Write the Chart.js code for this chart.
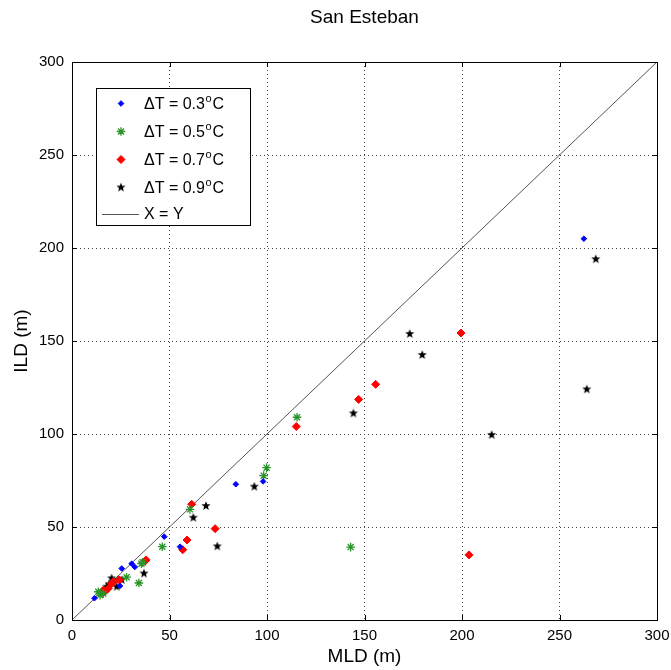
<!DOCTYPE html>
<html>
<head>
<meta charset="utf-8">
<script src="https://cdn.jsdelivr.net/npm/chart.js@4/dist/chart.umd.min.js"></script>
<style>
html,body{margin:0;padding:0;background:#fff;}
#wrap{width:671px;height:670px;}
</style>
</head>
<body>
<div id="wrap"><canvas id="c" width="671" height="670"></canvas></div>
<script>
// ---- data ----
const title = 'San Esteban';
const xLabel = 'MLD (m)';
const yLabel = 'ILD (m)';
const seriesNames = ['\u0394T = 0.3', '\u0394T = 0.5', '\u0394T = 0.7', '\u0394T = 0.9'];
const lineName = 'X = Y';

const mld03 = [11.5, 24.6, 25.5, 30.6, 32.2, 47.3, 55.4, 84, 98, 262.5];
const ild03 = [11.7, 18.3, 27.7, 30.3, 28.5, 44.8, 39.4, 73, 74.5, 205];

const mld05 = [13.5, 14.4, 16, 28, 34.3, 35.6, 36.3, 46.3, 60.5, 98.3, 99.8, 115.4, 142.9];
const ild05 = [15.2, 13.4, 14.2, 23, 19.9, 30.3, 31, 39.4, 59.5, 77.6, 81.9, 109, 39.2];

const mld07 = [15.2, 16, 17, 18.6, 20.3, 21.2, 24.3, 37.4, 38, 56.8, 59, 61.4, 73.4, 115, 147, 155.7, 199.5, 203.6];
const ild07 = [14.4, 16, 15.5, 17, 19.5, 20.6, 21.5, 31.6, 32.3, 37.8, 43, 62.2, 49.1, 104, 118.6, 126.7, 154.3, 35];

const mld09 = [17.8, 19, 20.3, 22.9, 23.7, 25.5, 36.9, 62.2, 68.7, 74.5, 93.5, 144.3, 173.2, 179.6, 215.2, 264, 268.6];
const ild09 = [17.9, 19.2, 22.4, 17.9, 21.5, 21.5, 25, 55, 61.3, 39.6, 71.7, 111.1, 153.8, 142.5, 99.5, 124, 194];

const lineXY = [0, 300];

const axisMin = 0, axisMax = 300, axisStep = 50;

// ---- helpers ----
function pts(xs, ys){ return xs.map((x,i)=>({x:x, y:ys[i]})); }
function pentagram(r, color){
  const c = document.createElement('canvas');
  const s = Math.ceil(2*r+2);
  c.width = s; c.height = s;
  const g = c.getContext('2d');
  g.fillStyle = color;
  g.beginPath();
  const cx = s/2, cy = s/2, ri = r*0.42;
  for(let k=0;k<10;k++){
    const ang = -Math.PI/2 + k*Math.PI/5;
    const rr = (k%2===0)? r : ri;
    const px = cx + rr*Math.cos(ang), py = cy + rr*Math.sin(ang);
    if(k===0) g.moveTo(px,py); else g.lineTo(px,py);
  }
  g.closePath(); g.fill();
  return c;
}
const starImg = pentagram(4.8, '#000');

const FONT = "'Liberation Sans', Arial, Helvetica, sans-serif";

const frameAndLegend = {
  id: 'frameAndLegend',
  afterDatasetsDraw(chart){
    const ctx = chart.ctx, a = chart.chartArea;
    const xs = chart.scales.x, ys = chart.scales.y;
    ctx.save();
    // frame
    ctx.strokeStyle = '#000'; ctx.lineWidth = 1; ctx.setLineDash([]);
    ctx.strokeRect(Math.round(a.left)+0.5, Math.round(a.top)+0.5, Math.round(a.right-a.left), Math.round(a.bottom-a.top));
    // inward ticks
    ctx.beginPath();
    xs.ticks.forEach(t=>{
      const p = Math.round(xs.getPixelForValue(t.value))+0.5;
      ctx.moveTo(p, a.bottom); ctx.lineTo(p, a.bottom-5);
      ctx.moveTo(p, a.top); ctx.lineTo(p, a.top+5);
    });
    ys.ticks.forEach(t=>{
      const p = Math.round(ys.getPixelForValue(t.value))+0.5;
      ctx.moveTo(a.left, p); ctx.lineTo(a.left+5, p);
      ctx.moveTo(a.right, p); ctx.lineTo(a.right-5, p);
    });
    ctx.stroke();

    // legend
    const bx = 96.5, by = 88.5, bw = 154, bh = 137;
    ctx.fillStyle = '#fff';
    ctx.fillRect(bx, by, bw, bh);
    ctx.strokeStyle = '#000';
    ctx.strokeRect(bx, by, bw, bh);
    const rows = [103.5, 131.5, 159.5, 187.5];
    const mx = 121, tx = 144;
    chart.data.datasets.slice(0,4).forEach((ds,i)=>{
      const y = rows[i];
      ctx.fillStyle = ds.backgroundColor; ctx.strokeStyle = ds.borderColor;
      ctx.lineWidth = ds.borderWidth || 1;
      Chart.helpers.drawPoint(ctx, {pointStyle: ds.pointStyle, radius: ds.pointRadius, borderWidth: ds.borderWidth || 1, rotation: 0}, mx, y);
      ctx.fillStyle = '#000';
      ctx.textBaseline = 'middle'; ctx.textAlign = 'left';
      ctx.font = '16px ' + FONT;
      const main = seriesNames[i];
      ctx.fillText(main, tx, y+1);
      let w = ctx.measureText(main).width;
      ctx.font = '11px ' + FONT;
      ctx.fillText('o', tx + w + 0.5, y - 5);
      const wo = ctx.measureText('o').width;
      ctx.font = '16px ' + FONT;
      ctx.fillText('C', tx + w + wo + 1.5, y+1);
    });
    // line entry
    ctx.strokeStyle = '#555'; ctx.lineWidth = 1;
    ctx.beginPath(); ctx.moveTo(102, 214.5); ctx.lineTo(139, 214.5); ctx.stroke();
    ctx.fillStyle = '#000'; ctx.font = '16px ' + FONT;
    ctx.textBaseline = 'middle';
    ctx.fillText(lineName, tx, 215);
    ctx.restore();
  }
};

const ctx = document.getElementById('c').getContext('2d');
new Chart(ctx, {
  type: 'scatter',
  data: {
    datasets: [
      {label: seriesNames[0], data: pts(mld03, ild03), pointStyle: 'rectRot', pointRadius: 2.8, backgroundColor: '#0000ff', borderColor: '#0000ff', borderWidth: 1},
      {label: seriesNames[1], data: pts(mld05, ild05), pointStyle: 'star', pointRadius: 4.3, backgroundColor: '#008000', borderColor: '#2a942a', borderWidth: 1.3},
      {label: seriesNames[2], data: pts(mld07, ild07), pointStyle: 'rectRot', pointRadius: 4, backgroundColor: '#ff0000', borderColor: '#ff0000', borderWidth: 1},
      {label: seriesNames[3], data: pts(mld09, ild09), pointStyle: starImg, pointRadius: 4, backgroundColor: '#000', borderColor: '#000', borderWidth: 1},
      {label: lineName, type: 'line', data: pts(lineXY, lineXY), showLine: true, borderColor: '#555', borderWidth: 1, pointRadius: 0, fill: false}
    ]
  },
  options: {
    responsive: false,
    animation: false,
    layout: {padding: {left: 0, right: 0, top: 0, bottom: 0}},
    plugins: {
      legend: {display: false},
      tooltip: {enabled: false},
      title: {display: true, fullSize: false, text: title, color: '#000', font: {family: FONT, size: 19, weight: 'normal'}, padding: {top: 6, bottom: 33.2}}
    },
    scales: {
      x: {
        type: 'linear', min: axisMin, max: axisMax,
        afterFit(s){ s.height = 50; s.paddingRight = 14; },
        ticks: {stepSize: axisStep, color: '#000', font: {family: FONT, size: 15}, padding: 7, maxRotation: 0},
        grid: {color: '#444', lineWidth: 1, drawTicks: false},
        border: {display: false, dash: [1, 3]},
        title: {display: true, text: xLabel, color: '#000', font: {family: FONT, size: 19}, padding: {top: 0, bottom: 2}}
      },
      y: {
        type: 'linear', min: axisMin, max: axisMax,
        afterFit(s){ s.width = 72; },
        ticks: {stepSize: axisStep, color: '#000', font: {family: FONT, size: 15}, padding: 8},
        grid: {color: '#444', lineWidth: 1, drawTicks: false},
        border: {display: false, dash: [1, 3]},
        title: {display: true, text: yLabel, color: '#000', font: {family: FONT, size: 19}, padding: {top: 10, bottom: 0}}
      }
    }
  },
  plugins: [frameAndLegend]
});
</script>
</body>
</html>
